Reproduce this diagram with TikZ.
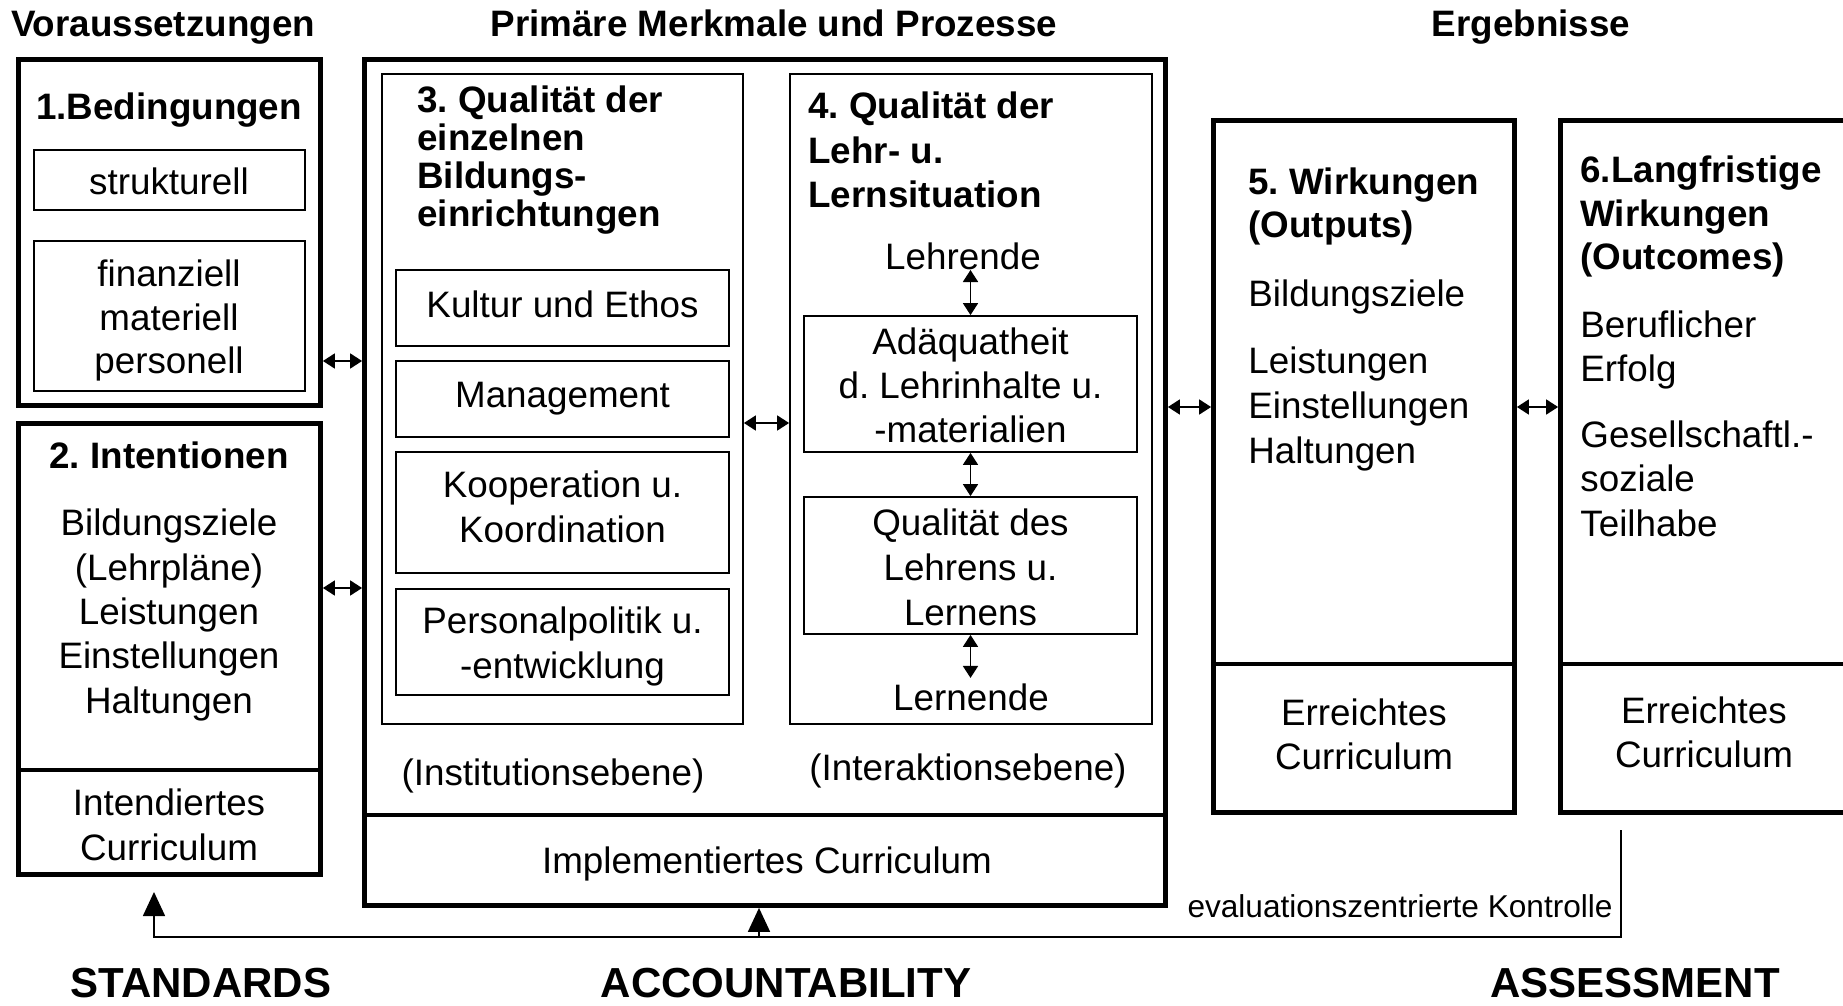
\documentclass[tikz,border=0pt]{standalone}
\usepackage{fontspec}
\setmainfont{Liberation Sans}
\usetikzlibrary{fit,arrows.meta}
\frenchspacing
\begin{document}
\frenchspacing
\begin{tikzpicture}[x=0.5pt,y=-0.5pt,
  tx/.style={inner sep=0pt, anchor=base, font=\fontsize{18.4pt}{22pt}\selectfont},
  txl/.style={tx, anchor=base west},
  hd/.style={inner sep=0pt, anchor=base, font=\fontsize{18.4pt}{22pt}\selectfont\bfseries},
  hdl/.style={hd, anchor=base west},
  bot/.style={inner sep=0pt, anchor=base, font=\fontsize{21pt}{25pt}\selectfont\bfseries},
  small/.style={inner sep=0pt, anchor=base east, font=\fontsize{15.8pt}{18pt}\selectfont},
  thickbox/.style={draw, line width=2.4pt, inner sep=0pt},
  thinbox/.style={draw, line width=0.9pt, inner sep=0pt},
  thickline/.style={line width=2.4pt},
  sarr/.style={line width=0.9pt, {Triangle[length=6pt,width=7.5pt]}-{Triangle[length=6pt,width=7.5pt]}},
  barr/.style={line width=0.8pt, -{Triangle[length=12pt,width=11pt]}},
]
\useasboundingbox (0,0) rectangle (1843,1006);
\fill[white] (0,0) rectangle (1843,1006);
\clip (0,0) rectangle (1843,1006);

% helper coordinates
\coordinate (y361) at (0,361);
\coordinate (y588) at (0,588);
\coordinate (y423) at (0,423);
\coordinate (y407) at (0,407);
\coordinate (y770) at (0,770);
\coordinate (y815) at (0,815);
\coordinate (y664) at (0,664);

% column headers
\node[hd] (hV) at (163,37) {Voraussetzungen};
\node[hd] (hP) at (774,37) {Primäre Merkmale und Prozesse};
\node[hd] (hE) at (1531,37) {Ergebnisse};

% box 1
\node[thickbox, fit={(18.5,59.5) (320.5,405.5)}] (b1) {};
\node[hd] (b1t) at (169,120) {1.Bedingungen};
\node[thinbox, fit={(34,150) (305,210)}] (b1s) {};
\node[tx] (b1s1) at (169,195) {strukturell};
\node[thinbox, fit={(34,241) (305,391)}] (b1f) {};
\node[tx] (b1f1) at (169,286) {finanziell};
\node[tx] (b1f2) at (169,330) {materiell};
\node[tx] (b1f3) at (169,373) {personell};

% box 2
\node[thickbox, fit={(18.5,423.5) (320.5,874.5)}] (b2) {};
\draw[thickline] (b2.west |- y770) -- (b2.east |- y770);
\node[hd] (b2t) at (169,468) {2. Intentionen};
\node[tx] (b2a) at (169,535) {Bildungsziele};
\node[tx] (b2b) at (169,580) {(Lehrpläne)};
\node[tx] (b2c) at (169,624) {Leistungen};
\node[tx] (b2d) at (169,668) {Einstellungen};
\node[tx] (b2e) at (169,713) {Haltungen};
\node[tx] (b2f) at (169,815) {Intendiertes};
\node[tx] (b2g) at (169,860) {Curriculum};

% middle big box
\node[thickbox, fit={(364.5,59.5) (1165.5,905.5)}] (mid) {};
\draw[thickline] (mid.west |- y815) -- (mid.east |- y815);
\node[tx] (impl) at (767,873) {Implementiertes Curriculum};

% box 3
\node[thinbox, fit={(382,74) (743,724)}] (b3) {};
\node[hdl] (b3t1) at (417,113) {3. Qualität der};
\node[hdl] (b3t2) at (417,151) {einzelnen};
\node[hdl] (b3t3) at (417,189) {Bildungs-};
\node[hdl] (b3t4) at (417,227) {einrichtungen};
\node[thinbox, fit={(396,270) (729,346)}] (kult) {};
\node[tx] (kult1) at (562.5,317) {Kultur und Ethos};
\node[thinbox, fit={(396,361) (729,437)}] (mgmt) {};
\node[tx] (mgmt1) at (562.5,407) {Management};
\node[thinbox, fit={(396,452) (729,573)}] (koop) {};
\node[tx] (koop1) at (562.5,497) {Kooperation u.};
\node[tx] (koop2) at (562.5,542) {Koordination};
\node[thinbox, fit={(396,589) (729,695)}] (pers) {};
\node[tx] (pers1) at (562.5,633) {Personalpolitik u.};
\node[tx] (pers2) at (562.5,678) {-entwicklung};
\node[tx] (inst) at (553,785) {(Institutionsebene)};

% box 4
\node[thinbox, fit={(790,74) (1152,724)}] (b4) {};
\node[hdl] (b4t1) at (808,119) {4. Qualität der};
\node[hdl] (b4t2) at (808,163) {Lehr- u.};
\node[hdl] (b4t3) at (808,207) {Lernsituation};
\node[tx] (lehr) at (963,270) {Lehrende};
\node[thinbox, fit={(804,316) (1137,452)}] (adq) {};
\node[tx] (adq1) at (970.5,354) {Adäquatheit};
\node[tx] (adq2) at (970.5,398) {d. Lehrinhalte u.};
\node[tx] (adq3) at (970.5,442) {-materialien};
\node[thinbox, fit={(804,497) (1137,634)}] (qual) {};
\node[tx] (qual1) at (970.5,535) {Qualität des};
\node[tx] (qual2) at (970.5,580) {Lehrens u.};
\node[tx] (qual3) at (970.5,625) {Lernens};
\node[tx] (lern) at (971,710) {Lernende};
\node[tx] (inter) at (968,780) {(Interaktionsebene)};

% box 5
\node[thickbox, fit={(1213.5,120.5) (1514.5,812.5)}] (b5) {};
\draw[thickline] (b5.west |- y664) -- (b5.east |- y664);
\node[hdl] (b5t1) at (1248,195) {5. Wirkungen};
\node[hdl] (b5t2) at (1248,237) {(Outputs)};
\node[txl] (b5a) at (1248,306) {Bildungsziele};
\node[txl] (b5b) at (1248,373) {Leistungen};
\node[txl] (b5c) at (1248,418) {Einstellungen};
\node[txl] (b5d) at (1248,463) {Haltungen};
\node[tx] (b5e) at (1364,725) {Erreichtes};
\node[tx] (b5f) at (1364,769) {Curriculum};

% box 6 (cut off at the right edge)
\node[thickbox, fit={(1560.5,120.5) (1851,812.5)}] (b6) {};
\draw[thickline] (b6.west |- y664) -- (b6.east |- y664);
\node[hdl] (b6t1) at (1580,183) {6.Langfristige};
\node[hdl] (b6t2) at (1580,227) {Wirkungen};
\node[hdl] (b6t3) at (1580,270) {(Outcomes)};
\node[txl] (b6a) at (1580,337) {Beruflicher};
\node[txl] (b6b) at (1580,381) {Erfolg};
\node[txl] (b6c) at (1580,447) {Gesellschaftl.-};
\node[txl] (b6d) at (1580,491) {soziale};
\node[txl] (b6e) at (1580,536) {Teilhabe};
\node[tx] (b6f) at (1704,723) {Erreichtes};
\node[tx] (b6g) at (1704,767) {Curriculum};

% horizontal double arrows
\draw[sarr] (b1.east |- y361) -- (mid.west |- y361);
\draw[sarr] (b2.east |- y588) -- (mid.west |- y588);
\draw[sarr] (b3.east |- y423) -- (b4.west |- y423);
\draw[sarr] (mid.east |- y407) -- (b5.west |- y407);
\draw[sarr] (b5.east |- y407) -- (b6.west |- y407);

% vertical double arrows in box 4
\draw[sarr] (lehr.base -| adq.north) -- (adq.north);
\draw[sarr] (adq.south) -- (qual.north);
\draw[sarr, shorten >=2.5pt] (qual.south) -- (lern.north -| qual.south);

% feedback loop
\coordinate (ectop) at (1621,830);
\coordinate (a2tail) at (154,937);
\coordinate (a2tip) at (154,892);
\coordinate (acc) at (759,937);
\draw[barr] (ectop) |- (a2tail) -- (a2tip);
\draw[barr] (acc) -- (mid.south -| acc);
\node[small] (eval) at (1613,917) {evaluationszentrierte Kontrolle};

% bottom labels
\node[bot] (std) at (201,997) {STANDARDS};
\node[bot] (accl) at (786,997) {ACCOUNTABILITY};
\node[bot] (ass) at (1635,997) {ASSESSMENT};
\end{tikzpicture}
\end{document}
